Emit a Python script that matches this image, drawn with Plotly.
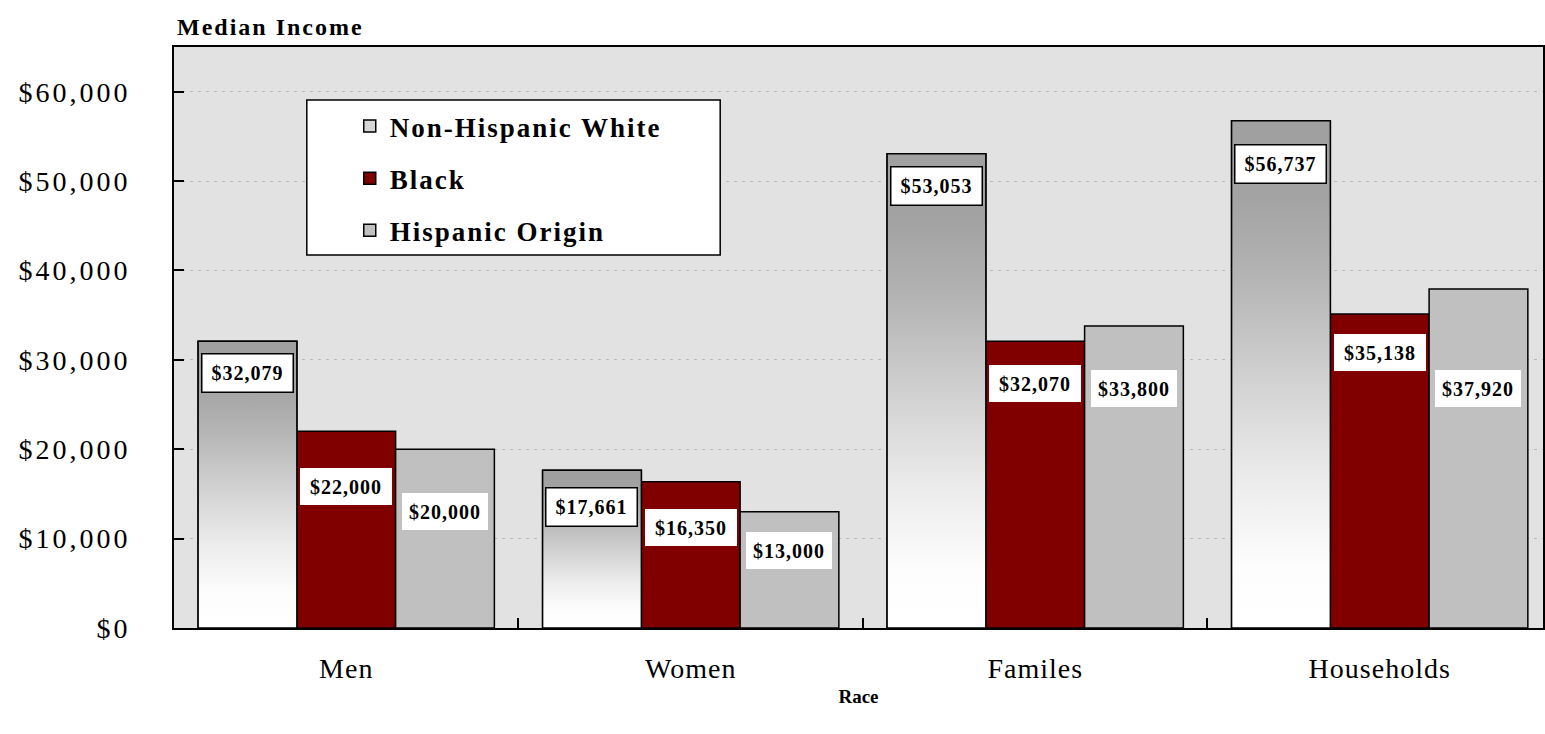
import plotly.graph_objects as go

# ---------------- data ----------------
categories = ["Men", "Women", "Familes", "Households"]
series_names = ["Non-Hispanic White", "Black", "Hispanic Origin"]
nh_white = [32079, 17661, 53053, 56737]
black = [22000, 16350, 32070, 35138]
hispanic = [20000, 13000, 33800, 37920]
y_tickvals = [0, 10000, 20000, 30000, 40000, 50000, 60000]

# ---------------- style ----------------
SERIF = "Liberation Serif, Times New Roman, serif"
BAR_GAP = 0.14
GROUP_W = 1 - BAR_GAP
BAR_W = GROUP_W / 3
# vertical drop (px) of each value box below its bar top
drop_white = [12, 17, 12, 23]
drop_black = [37, 27, 24, 20]
drop_hisp = [44, 20, 44, 81]


def spaced(text, px):
    return f'<span style="letter-spacing:{px}px">{text}</span>'


xs = list(range(len(categories)))
fig = go.Figure()

fig.add_trace(go.Bar(x=xs, y=nh_white, name=spaced(series_names[0], 2), legendgroup="a",
                     marker=dict(color="#d6d6d6", line=dict(color="black", width=1.5))))
fig.add_trace(go.Bar(x=xs, y=black, name=spaced(series_names[1], 2), legendgroup="b",
                     marker=dict(color="#800000", line=dict(color="black", width=1.5))))
fig.add_trace(go.Bar(x=xs, y=hispanic, name=spaced(series_names[2], 2), legendgroup="c",
                     marker=dict(color="#c0c0c0", line=dict(color="black", width=1.5))))

# gradient overlay for the Non-Hispanic White bars (same geometry as the grouped bar)
grad = [[0, "#ffffff"], [0.12, "#fdfdfd"], [0.3, "#ebebeb"], [0.5, "#d0d0d0"],
        [0.7, "#b3b3b3"], [0.85, "#a3a3a3"], [1, "#a0a0a0"]]
for i, v in zip(xs, nh_white):
    x0 = i - GROUP_W / 2
    x1 = x0 + BAR_W
    fig.add_trace(go.Scatter(
        x=[x0, x0, x1, x1, x0], y=[0, v, v, 0, 0], mode="lines", fill="toself",
        fillgradient=dict(type="vertical", colorscale=grad, start=0, stop=v),
        line=dict(color="black", width=1.5), showlegend=False, hoverinfo="skip"))


# value boxes
def add_labels(vals, k, drops, border, width):
    for i, (v, d) in enumerate(zip(vals, drops)):
        cx = i - GROUP_W / 2 + BAR_W * (k + 0.5)
        fig.add_annotation(
            x=cx, y=v, xref="x", yref="y", yanchor="top", xanchor="center",
            yshift=-d, text=spaced(f"${v:,}", 1), showarrow=False,
            font=dict(family=SERIF, size=20, color="black", weight="bold"),
            bgcolor="white", bordercolor="black" if border else "white",
            borderwidth=1.5 if border else 0, borderpad=2, width=width, height=33)


add_labels(nh_white, 0, drop_white, True, 86)
add_labels(black, 1, drop_black, False, 88)
add_labels(hispanic, 2, drop_hisp, False, 82)

# legend frame
fig.add_shape(type="rect", xref="paper", yref="paper",
              x0=(307 - 174) / 1371, x1=(721 - 174) / 1371,
              y0=(628 - 255) / 581, y1=(628 - 100) / 581,
              fillcolor="white", line=dict(color="black", width=1.5), layer="above")

fig.update_layout(
    width=1545, height=734,
    margin=dict(l=174, r=0, t=47, b=106),
    paper_bgcolor="white", plot_bgcolor="#e2e2e2",
    barmode="group", bargap=BAR_GAP, bargroupgap=0,
    font=dict(family=SERIF, color="black"),
    title=dict(text=spaced("Median Income", 2), x=(177 - 174) / 1371, xref="paper",
               xanchor="left", y=1 - 27 / 734, yref="container", yanchor="middle",
               font=dict(family=SERIF, size=24, weight="bold", color="black")),
    legend=dict(x=(350 - 174) / 1371, y=(628 - 102) / 581, xanchor="left", yanchor="top",
                bgcolor="rgba(0,0,0,0)", borderwidth=0, tracegroupgap=14,
                font=dict(family=SERIF, size=27, weight="bold", color="black")),
    showlegend=True,
)

fig.update_xaxes(
    range=[-0.5, 3.474], tickvals=xs, ticktext=[spaced(c, 1) for c in categories], ticks="",
    tickfont=dict(family=SERIF, size=28, color="black"), ticklabelstandoff=14,
    showline=True, linecolor="black", linewidth=2, mirror=True,
    showgrid=False, zeroline=False,
    minor=dict(tickmode="array", tickvals=[0.5, 1.5, 2.5], ticks="inside",
               ticklen=10, tickwidth=1.5, tickcolor="black", showgrid=False),
    title=dict(text="Race", standoff=7,
               font=dict(family=SERIF, size=19, weight="bold", color="black")),
)
fig.update_yaxes(
    range=[0, 65000], tickvals=y_tickvals,
    ticktext=[spaced(f"${v:,}", 3) for v in y_tickvals],
    ticks="inside", ticklen=10, tickwidth=1.5, tickcolor="black",
    tickfont=dict(family=SERIF, size=28, color="black"), ticklabelstandoff=36,
    showline=True, linecolor="black", linewidth=2, mirror=True,
    showgrid=True, gridcolor="#b8b8b8", gridwidth=1, griddash="3px,5px",
    zeroline=False,
)

fig.write_html("out.html", config={"displayModeBar": False},
               post_script="document.body.style.margin='0';document.body.style.overflow='hidden';")
